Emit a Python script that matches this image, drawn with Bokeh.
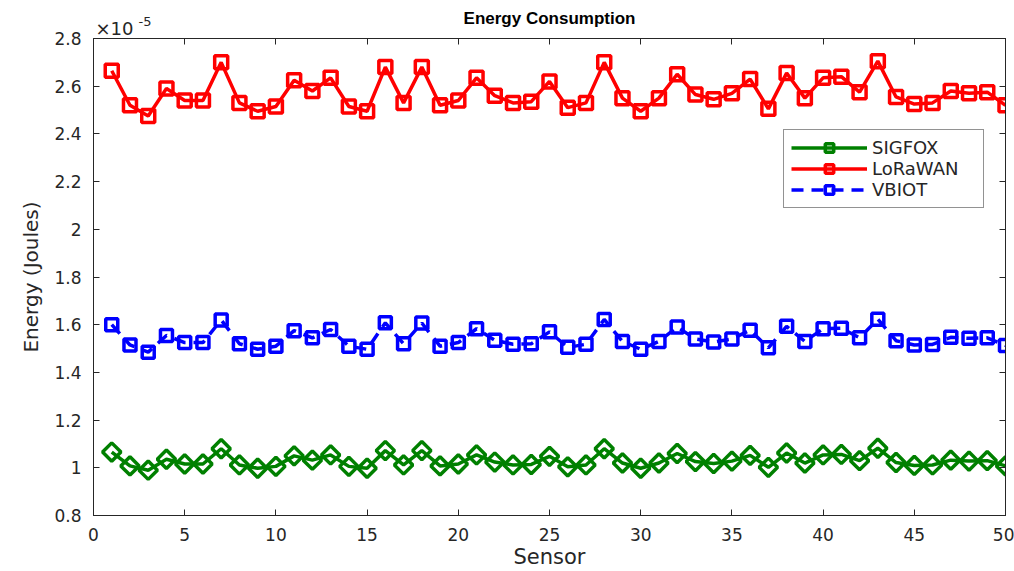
import numpy as np
from bokeh.plotting import figure
from bokeh.models import FixedTicker, LinearAxis, Legend, LegendItem, Range1d, Title
from bokeh.embed import file_html
from bokeh.resources import INLINE

sensors = list(range(1, 51))

# values in units of 1e-5 J
lorawan = [2.665, 2.52, 2.475, 2.59, 2.54, 2.54, 2.70, 2.53, 2.495, 2.515,
           2.625, 2.58, 2.635, 2.515, 2.495, 2.68, 2.53, 2.68, 2.52, 2.54,
           2.635, 2.56, 2.53, 2.535, 2.62, 2.51, 2.53, 2.70, 2.55, 2.495,
           2.55, 2.65, 2.565, 2.545, 2.57, 2.63, 2.505, 2.655, 2.55, 2.635,
           2.64, 2.575, 2.705, 2.555, 2.525, 2.53, 2.58, 2.57, 2.575, 2.52]

vbiot = [1.60, 1.515, 1.485, 1.555, 1.525, 1.525, 1.62, 1.52, 1.497, 1.51,
         1.575, 1.545, 1.58, 1.51, 1.497, 1.608, 1.52, 1.607, 1.51, 1.525,
         1.583, 1.535, 1.518, 1.52, 1.57, 1.505, 1.518, 1.622, 1.53, 1.497,
         1.53, 1.59, 1.54, 1.527, 1.54, 1.577, 1.503, 1.593, 1.53, 1.583,
         1.585, 1.545, 1.623, 1.533, 1.515, 1.517, 1.547, 1.543, 1.545, 1.513]

sigfox = [1.066, 1.008, 0.99, 1.036, 1.016, 1.016, 1.08, 1.012, 0.998, 1.006,
          1.05, 1.032, 1.054, 1.006, 0.998, 1.072, 1.012, 1.072, 1.008, 1.016,
          1.054, 1.024, 1.012, 1.014, 1.048, 1.004, 1.012, 1.08, 1.02, 0.998,
          1.02, 1.06, 1.026, 1.018, 1.028, 1.052, 1.002, 1.062, 1.02, 1.054,
          1.056, 1.03, 1.082, 1.022, 1.01, 1.012, 1.032, 1.028, 1.03, 1.008]

x_ticks = list(range(0, 51, 5))
y_ticks = [0.8, 1.0, 1.2, 1.4, 1.6, 1.8, 2.0, 2.2, 2.4, 2.6, 2.8]
y_tick_labels = ["0.8", "1", "1.2", "1.4", "1.6", "1.8", "2", "2.2", "2.4", "2.6", "2.8"]

FONT = "DejaVu Sans"
TFONT = "Liberation Sans"
TXT = "#262626"

p = figure(width=1014, height=571, output_backend="svg", toolbar_location=None,
           x_range=Range1d(0, 50), y_range=Range1d(0.8, 2.8), title=None,
           min_border_left=93, min_border_right=9, min_border_top=38, min_border_bottom=55)

p.xgrid.visible = False
p.ygrid.visible = False
p.outline_line_color = "#262626"
p.outline_line_width = 1
p.background_fill_color = "white"
p.border_fill_color = "white"

def style_axis(ax):
    ax.axis_line_color = "#262626"
    ax.major_tick_line_color = "#262626"
    ax.major_tick_in = 6
    ax.major_tick_out = 0
    ax.minor_tick_line_color = None
    ax.major_label_text_font = FONT
    ax.major_label_text_font_size = "17px"
    ax.major_label_text_color = TXT

xa = p.xaxis[0]
xa.ticker = FixedTicker(ticks=x_ticks)
style_axis(xa)
xa.axis_label = "Sensor"
xa.axis_label_text_font = FONT
xa.axis_label_text_font_size = "21px"
xa.axis_label_text_font_style = "normal"
xa.axis_label_text_color = TXT
xa.axis_label_standoff = 1
xa.major_label_standoff = 12

ya = p.yaxis[0]
ya.ticker = FixedTicker(ticks=y_ticks)
ya.major_label_overrides = {t: l for t, l in zip(y_ticks, y_tick_labels)}
style_axis(ya)
ya.axis_label = "Energy (Joules)"
ya.axis_label_text_font = FONT
ya.axis_label_text_font_size = "20px"
ya.axis_label_text_font_style = "normal"
ya.axis_label_text_color = TXT
ya.axis_label_standoff = 8
ya.major_label_standoff = 12

top = LinearAxis(ticker=FixedTicker(ticks=x_ticks))
style_axis(top)
top.major_label_overrides = {t: "" for t in x_ticks}
top.major_label_text_font_size = "1px"
top.major_label_standoff = 0
p.add_layout(top, "above")
right = LinearAxis(ticker=FixedTicker(ticks=y_ticks))
style_axis(right)
right.major_label_overrides = {t: "" for t in y_ticks}
right.major_label_text_font_size = "1px"
right.major_label_standoff = 0
p.add_layout(right, "right")

mult = Title(text="×10", align="left", offset=2, standoff=0,
             text_font=FONT, text_font_size="18px", text_font_style="normal",
             text_color=TXT)
p.add_layout(mult, "above")
main_title = Title(text="Energy Consumption", align="center", standoff=-25,
                   text_font=TFONT, text_font_size="17px", text_font_style="bold",
                   text_color="#000000")
p.add_layout(main_title, "above")
expo = Title(text="-5", align="left", offset=45, standoff=-20,
             text_font=FONT, text_font_size="13px", text_font_style="normal",
             text_color=TXT)
p.add_layout(expo, "above")

GREEN = "#008000"
RED = "#ff0000"
BLUE = "#0000ff"

g_line = p.line(sensors, sigfox, line_color=GREEN, line_width=3.5)
g_mark = p.scatter(sensors, sigfox, marker="square", angle=np.pi / 4, size=13,
                   line_color=GREEN, line_width=3.5, fill_color=None)

r_line = p.line(sensors, lorawan, line_color=RED, line_width=3.5)
r_mark = p.scatter(sensors, lorawan, marker="square", size=13,
                   line_color=RED, line_width=3.5, fill_color=None)

b_line = p.line(sensors, vbiot, line_color=BLUE, line_width=3.5, line_dash="12 8")
b_mark = p.scatter(sensors, vbiot, marker="square", size=12,
                   line_color=BLUE, line_width=3.5, fill_color=None)

legend = Legend(items=[
    LegendItem(label="SIGFOX", renderers=[g_line, g_mark]),
    LegendItem(label="LoRaWAN", renderers=[r_line, r_mark]),
    LegendItem(label="VBIOT", renderers=[b_line, b_mark]),
], location=(690, 307))
legend.label_text_font = FONT
legend.label_text_font_size = "18px"
legend.label_text_color = TXT
legend.glyph_width = 76
legend.glyph_height = 21
legend.label_height = 21
legend.label_width = 104
legend.spacing = 0
legend.padding = 7
legend.margin = 0
legend.label_standoff = 5
legend.border_line_color = "#262626"
legend.border_line_width = 1
legend.background_fill_alpha = 1
p.add_layout(legend, "center")

open("out.html", "w").write(file_html(p, INLINE))
